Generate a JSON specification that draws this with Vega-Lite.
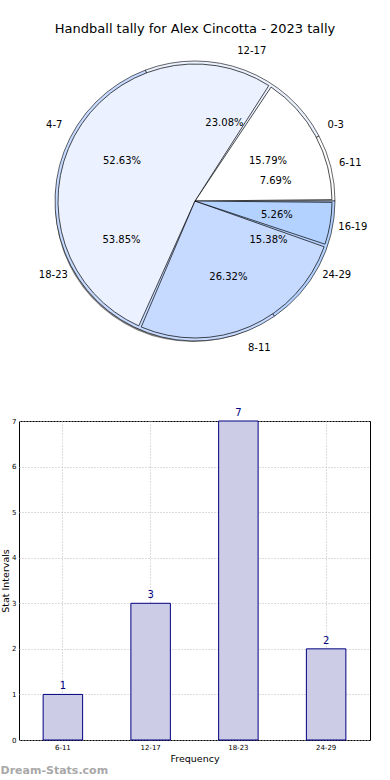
{
  "$schema": "https://vega.github.io/schema/vega-lite/v6.json",
  "autosize": {"type": "pad"},
  "padding": {"top": 23, "left": 0, "right": 0, "bottom": 0},
  "bounds": "flush",
  "spacing": 70,
  "datasets": {
    "pie": [
      {"set": "A", "grp": "0-3", "lo": 0, "share": 0.157895},
      {"set": "A", "grp": "4-7", "lo": 4, "share": 0.526316},
      {"set": "A", "grp": "8-11", "lo": 8, "share": 0.263158},
      {"set": "A", "grp": "16-19", "lo": 16, "share": 0.052632},
      {"set": "B", "grp": "6-11", "lo": 6, "share": 0.076923},
      {"set": "B", "grp": "12-17", "lo": 12, "share": 0.230769},
      {"set": "B", "grp": "18-23", "lo": 18, "share": 0.538462},
      {"set": "B", "grp": "24-29", "lo": 24, "share": 0.153846}
    ],
    "bars": [
      {"grp": "6-11", "n": 1},
      {"grp": "12-17", "n": 3},
      {"grp": "18-23", "n": 7},
      {"grp": "24-29", "n": 2}
    ]
  },
  "vconcat": [
    {
      "width": 352,
      "height": 300,
      "view": {"stroke": null},
      "title": {"text": "Handball tally for Alex Cincotta - 2023 tally", "fontSize": 13, "fontWeight": "normal", "anchor": "middle", "offset": 10, "color": "black"},
      "data": {"name": "pie"},
      "encoding": {
        "theta": {"field": "share", "type": "quantitative", "stack": true, "scale": {"range": [1.5708, 7.854]}},
        "order": {"field": "lo", "sort": "descending"}
      },
      "layer": [
        {
          "transform": [{"filter": "datum.set === 'A'"}],
          "mark": {"type": "arc", "outerRadius": 138, "fill": "#808080", "xOffset": -2, "yOffset": 3}
        },
        {
          "transform": [{"filter": "datum.set === 'B'"}],
          "mark": {"type": "arc", "outerRadius": 140, "stroke": "black", "strokeWidth": 0.6},
          "encoding": {
            "color": {"field": "grp", "type": "nominal", "legend": null,
              "scale": {"domain": ["0-3", "4-7", "8-11", "16-19", "6-11", "12-17", "18-23", "24-29"],
                        "range": ["#ffffff", "#ebf1ff", "#c6d9ff", "#b4d2ff", "#ffffff", "#ebf1ff", "#c6d9ff", "#b4d2ff"]}}
          }
        },
        {
          "transform": [{"filter": "datum.set === 'A'"}],
          "mark": {"type": "arc", "outerRadius": 137, "stroke": "black", "strokeWidth": 0.7, "padAngle": 0.02},
          "encoding": {
            "color": {"field": "grp", "type": "nominal", "legend": null}
          }
        },
        {
          "transform": [{"filter": "datum.set === 'A'"}],
          "mark": {"type": "text", "radius": 83, "fontSize": 10, "color": "black"},
          "encoding": {"text": {"field": "share", "type": "quantitative", "format": ".2%"}}
        },
        {
          "transform": [{"filter": "datum.set === 'B'"}],
          "mark": {"type": "text", "radius": 83, "fontSize": 10, "color": "black"},
          "encoding": {"text": {"field": "share", "type": "quantitative", "format": ".2%"}}
        },
        {
          "transform": [{"filter": "datum.set === 'A'"}],
          "mark": {"type": "text", "radius": 160, "fontSize": 10, "color": "black"},
          "encoding": {"text": {"field": "grp", "type": "nominal"}}
        },
        {
          "transform": [{"filter": "datum.set === 'B'"}],
          "mark": {"type": "text", "radius": 160, "fontSize": 10, "color": "black"},
          "encoding": {"text": {"field": "grp", "type": "nominal"}}
        }
      ]
    },
    {
      "width": 351,
      "height": 319,
      "view": {"stroke": "black", "strokeWidth": 1},
      "title": {"text": "Dream-Stats.com", "orient": "bottom", "anchor": "start", "fontSize": 11, "fontWeight": "bold", "color": "#a8a8a8", "offset": 2},
      "data": {"name": "bars"},
      "encoding": {
        "x": {"field": "grp", "type": "nominal", "sort": ["6-11", "12-17", "18-23", "24-29"],
          "scale": {"paddingInner": 0, "paddingOuter": 0},
          "axis": {"title": "Frequency", "labelAngle": 0, "labelFontSize": 7, "titleFontSize": 9.5, "titleFontWeight": "normal", "titlePadding": 3, "labelPadding": 3, "tickSize": 0, "domain": false, "grid": true, "gridDash": [1, 2], "gridColor": "#bbbbbb", "labelColor": "black", "titleColor": "black"}},
        "y": {"field": "n", "type": "quantitative", "scale": {"domain": [0, 7], "nice": false},
          "axis": {"title": "Stat Intervals", "values": [0, 1, 2, 3, 4, 5, 6, 7], "labelFontSize": 7, "titleFontSize": 9.5, "titleFontWeight": "normal", "titlePadding": 1, "labelPadding": 3, "tickSize": 0, "domain": false, "grid": true, "gridDash": [1, 2], "gridColor": "#bbbbbb", "labelColor": "black", "titleColor": "black"}}
      },
      "layer": [
        {
          "mark": {"type": "bar", "fill": "#ccccE6", "stroke": "#000080", "strokeWidth": 1, "width": {"band": 0.45}}
        },
        {
          "mark": {"type": "text", "dy": -3, "baseline": "bottom", "fontSize": 10, "color": "#000080"},
          "encoding": {"text": {"field": "n", "type": "quantitative"}}
        }
      ]
    }
  ],
  "config": {"font": "DejaVu Sans"}
}
